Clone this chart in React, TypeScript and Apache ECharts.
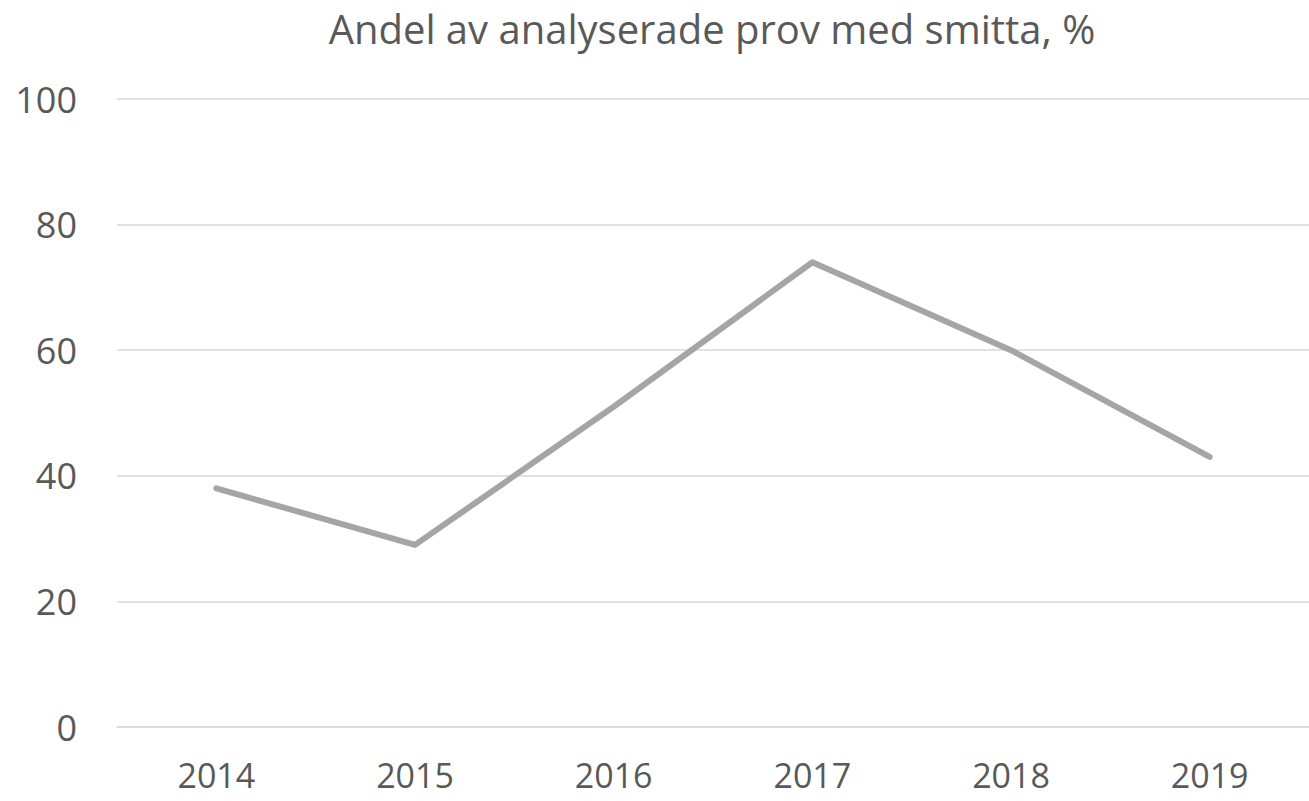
import React, { useEffect, useRef } from "react";
import * as echarts from "echarts";

const years = ["2014", "2015", "2016", "2017", "2018", "2019"];
const shares = [38, 29, 51, 74, 60, 43];
const yTicks = { min: 0, max: 100, interval: 20 };
const titleText = "Andel av analyserade prov med smitta, %";

export default function App() {
  const ref = useRef<HTMLDivElement>(null);
  useEffect(() => {
    if (!ref.current) return;
    const chart = echarts.init(ref.current, null, { renderer: "svg" });
    const font = "'Open Sans', 'Noto Sans', sans-serif";
    chart.setOption({
      animation: false,
      backgroundColor: "#ffffff",
      title: {
        text: titleText,
        left: 707,
        top: 3,
        textAlign: "center",
        textStyle: { color: "#595959", fontFamily: font, fontSize: 40, fontWeight: "normal" },
      },
      grid: { left: 117, top: 99, width: 1210, height: 628, containLabel: false },
      xAxis: {
        type: "category",
        data: years,
        boundaryGap: true,
        axisLine: { show: true, lineStyle: { color: "#d9d9d9", width: 1.5 } },
        axisTick: { show: false },
        axisLabel: { color: "#595959", fontFamily: font, fontSize: 34, margin: 31 },
      },
      yAxis: {
        type: "value",
        min: yTicks.min,
        max: yTicks.max,
        interval: yTicks.interval,
        axisLine: { show: false },
        axisTick: { show: false },
        splitLine: { lineStyle: { color: "#d9d9d9", width: 1.5 } },
        axisLabel: { color: "#595959", fontFamily: font, fontSize: 36, margin: 40 },
      },
      series: [
        {
          type: "line",
          data: shares,
          symbol: "none",
          lineStyle: { color: "#a5a5a5", width: 6, cap: "round", join: "round" },
        },
      ],
    });
    return () => chart.dispose();
  }, []);
  return (
    <div
      ref={ref}
      style={{ position: "fixed", left: 0, top: 0, width: 1309, height: 801 }}
    />
  );
}
